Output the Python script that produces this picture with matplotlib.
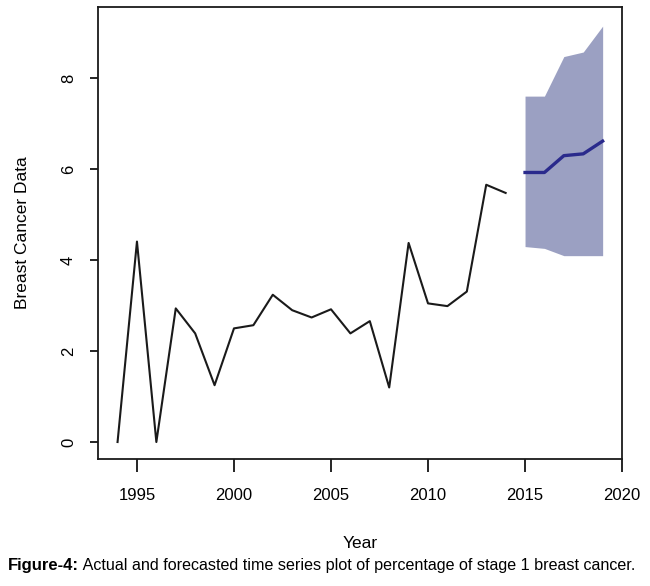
import matplotlib
matplotlib.use("Agg")
import matplotlib.pyplot as plt

# actual series (percentage of stage 1 breast cancer)
years = list(range(1994, 2015))
actual = [0.0, 4.41, 0.0, 2.94, 2.39, 1.25, 2.50, 2.57, 3.24, 2.90, 2.74,
          2.92, 2.39, 2.66, 1.20, 4.38, 3.05, 2.99, 3.31, 5.66, 5.48]

# forecast
fc_years = [2015, 2016, 2017, 2018, 2019]
fc_mean = [5.93, 5.93, 6.30, 6.34, 6.62]
fc_lower = [4.30, 4.26, 4.10, 4.10, 4.10]
fc_upper = [7.61, 7.61, 8.48, 8.58, 9.15]

plt.rcParams['font.family'] = ['Liberation Sans', 'DejaVu Sans']

fig = plt.figure(figsize=(6.5, 5.86), dpi=100)
ax = fig.add_axes([0.151, 0.217, 0.806, 0.771])

ax.fill_between(fc_years, fc_lower, fc_upper, color='#9ba0c2', linewidth=0)
ax.plot(fc_years, fc_mean, color='#2a2a8c', linewidth=2.4)
ax.plot(years, actual, color='#1a1a1a', linewidth=1.5)

ax.set_xlim(1993, 2020)
ax.set_ylim(-0.37, 9.57)
ax.set_xticks([1995, 2000, 2005, 2010, 2015, 2020])
ax.set_yticks([0, 2, 4, 6, 8])
ax.tick_params(axis='x', length=9, width=1.2, labelsize=12, pad=12)
ax.tick_params(axis='y', length=6, width=1.2, labelsize=12, pad=10)
for lab in ax.get_yticklabels():
    lab.set_rotation(90)
    lab.set_va('center')
for s in ax.spines.values():
    s.set_linewidth(1.3)
    s.set_color('#1a1a1a')

ax.set_xlabel("Year", fontsize=12.5, labelpad=24)
ax.set_ylabel("Breast Cancer Data", fontsize=12.5, labelpad=22)

t1 = fig.text(0.012, 0.027, "Figure-4:", fontsize=12, fontweight='bold',
              va='baseline')
ax.annotate(" Actual and forecasted time series plot of percentage of stage 1 breast cancer.",
            xy=(1, 0), xycoords=t1, va='bottom', ha='left', fontsize=11.6,
            annotation_clip=False)

fig.savefig("out.png", dpi=100)
